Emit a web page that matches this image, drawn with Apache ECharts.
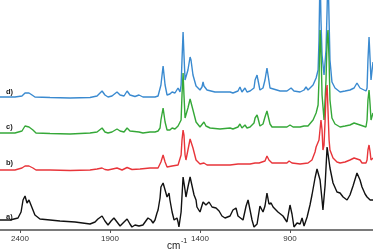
<!DOCTYPE html>
<html>
<head>
<meta charset="utf-8">
<style>
html,body{margin:0;padding:0;background:#fff;}
#chart{width:373px;height:252px;}
</style>
<script src="https://cdn.jsdelivr.net/npm/echarts@6/dist/echarts.min.js"></script>
</head>
<body>
<div id="chart"></div>
<script>
// Wavenumbers (cm-1) and relative intensities (offset arbitrary units)
var tickValues = [2400, 1900, 1400, 900];

var wnD = [2511,2428,2389,2372,2361,2350,2344,2333,2317,2233,2122,2011,1972,1944,1928,1911,1889,1861,1844,1833,1822,1805,1789,1778,1761,1739,1717,1689,1678,1650,1633,1622,1617,1605,1594,1583,1567,1555,1539,1522,1511,1505,1500,1494,1489,1483,1478,1467,1455,1450,1439,1422,1400,1389,1383,1378,1361,1317,1261,1233,1217,1189,1178,1167,1150,1139,1122,1100,1094,1083,1078,1067,1050,1039,1028,1022,1011,1000,955,917,894,878,844,822,811,800,789,772,755,744,739,733,728,722,711,700,694,689,683,678,667,650,622,594,567,544,528,511,500,478,472,467,461,455,450,444,439];
var valD = [133,133,134,137,138,137,137.5,135,133,132.5,132,132.5,134,139,135,133,134,138,135,133,134,139,135,133,133.5,135,133,133,134,133,134,136,145,164,145,135,136,138,137,142,138,145,170,198,175,150,148,160,173,170,155,144,140,143,148,144,140,138,138,138,137,139,143,138,142,138,139,142,150,155,150,140,142,150,162,155,142,140,139,139,142,139,138,140,143,140,141,145,152,160,190,260,210,175,155,180,220,260,210,170,148,142,138,139,140,142,147,142,140,139,142,170,193,170,150,160,168];

var wnC = [2511,2428,2389,2372,2361,2350,2339,2328,2311,2233,2122,2011,1972,1944,1928,1911,1889,1861,1844,1833,1822,1805,1789,1778,1739,1717,1678,1650,1633,1622,1617,1605,1594,1583,1567,1555,1539,1522,1511,1505,1500,1494,1489,1483,1478,1467,1455,1450,1439,1422,1400,1389,1378,1367,1344,1289,1233,1217,1189,1178,1167,1150,1139,1122,1100,1094,1083,1078,1067,1050,1039,1028,1022,1011,1000,955,917,900,883,844,822,811,800,789,772,755,744,739,733,728,722,711,700,694,689,683,678,667,650,622,594,567,544,533,511,500,478,472,467,461,455,450,444,439];
var valC = [97,97,99,104,105,103,103,100,97,96.5,96,97,98,102,98,97,98,101,99,97,98,102,99,97,98,97,98,98,99,102,110,122,108,100,100,102,101,104,102,110,135,157,135,112,110,122,131,132,120,108,103,105,108,104,102,101,102,101,103,106,102,105,102,103,107,112,115,112,104,106,113,119,117,106,103,103,103,105,103,103,104,106,104,105,110,117,125,150,200,180,135,110,150,190,200,170,130,112,106,103,104,105,107,108,105,103,103,110,130,140,125,110,112,117];

var wnB = [2511,2428,2389,2372,2361,2350,2339,2328,2311,2233,2122,2011,1972,1944,1928,1911,1861,1833,1805,1778,1733,1678,1633,1622,1617,1605,1594,1583,1555,1522,1511,1505,1500,1494,1489,1483,1478,1467,1455,1450,1439,1422,1400,1378,1361,1317,1233,1189,1178,1167,1122,1094,1083,1072,1039,1028,1017,1000,955,917,905,889,844,800,778,761,755,744,739,728,722,717,711,705,700,694,689,683,678,661,639,622,594,567,544,533,511,500,478,472,467,461,455,450,444,439];
var valB = [60,60,62,64,65,64,64,62,60,60,59.5,60,61,62,60.5,60,62,60,62.5,60.5,61,62,62,64,68,75,68,63,64,65,65,75,90,100,95,75,70,80,91,92,82,70,66,67,65,65,65,66,68,66,66,67,69,67,69,74,70,67,67,67,69,67,66,67,70,78,83,82,90,110,100,80,85,110,135,145,120,90,80,72,68,67,68,70,72,73,70,67,67,70,80,85,78,70,71,72];

var wnA = [2511,2455,2411,2394,2383,2372,2367,2361,2355,2350,2339,2328,2317,2289,2233,2178,2094,2011,1983,1967,1944,1928,1911,1894,1878,1861,1844,1822,1805,1789,1778,1761,1750,1739,1728,1717,1706,1689,1678,1672,1661,1650,1639,1633,1622,1617,1605,1594,1589,1583,1572,1567,1555,1544,1539,1528,1522,1517,1505,1494,1489,1483,1478,1467,1455,1450,1444,1433,1422,1417,1400,1383,1367,1350,1333,1311,1294,1278,1261,1233,1217,1200,1189,1178,1161,1150,1144,1133,1122,1111,1100,1083,1067,1050,1039,1028,1017,1005,994,983,967,939,917,905,900,889,878,861,844,833,822,805,789,778,761,750,733,722,717,705,694,678,661,639,622,605,594,583,567,550,528,511,500,483,472,455,439];
var valA = [10,10,12,18,30,34,32,27,29,30,25,20,15,11,10,9,8,6,8,11,14,9,5,9,12,8,4,8,11,6,3,5,7,4,2,5,4,12,12,10,7,10,17,20,32,43,47,40,42,33,37,30,18,10,8,12,8,3,18,53,51,40,33,43,53,55,52,35,30,23,18,28,25,28,23,22,19,14,12,14,20,22,14,15,10,12,24,30,20,10,3,6,24,18,24,37,26,27,23,22,18,14,8,20,25,16,3,7,6,12,4,13,25,35,52,61,50,30,20,45,83,62,47,38,37,33,31,30,35,44,57,50,43,36,33,30,30];

var traceNames = ['d)', 'c)', 'b)', 'a)'];
var traceColors = ['#3a8ad0', '#35a838', '#e8353a', '#111111'];

function zip(w, v) {
  var out = [];
  for (var i = 0; i < w.length; i++) out.push([w[i], v[i]]);
  return out;
}

var chart = echarts.init(document.getElementById('chart'));
var datasets = [zip(wnD, valD), zip(wnC, valC), zip(wnB, valB), zip(wnA, valA)];

chart.setOption({
  animation: false,
  backgroundColor: '#ffffff',
  grid: {left: 0, right: 0, top: 0, bottom: 22},
  xAxis: {
    type: 'value',
    inverse: true,
    min: 439,
    max: 2511,
    axisLine: {lineStyle: {color: '#7a7a7a', width: 2}},
    axisTick: {show: true, length: 3, customValues: tickValues, lineStyle: {color: '#555'}},
    axisLabel: {
      customValues: tickValues, fontSize: 8, color: '#333', margin: 5, fontFamily: 'Liberation Sans',
      formatter: function (v) { return String(v); }
    },
    splitLine: {show: false}
  },
  yAxis: {
    type: 'value', min: 0, max: 230, show: false,
    splitLine: {show: false}
  },
  series: datasets.map(function (d, i) {
    return {
      name: traceNames[i],
      type: 'line',
      data: d,
      symbol: 'none',
      clip: true,
      lineStyle: {color: traceColors[i], width: 1.4},
      z: 2 + i
    };
  }),
  graphic: [
    {type: 'text', left: 6, top: 88, style: {text: 'd)', font: 'bold 7.5px Liberation Sans', fill: '#222'}},
    {type: 'text', left: 6, top: 123, style: {text: 'c)', font: 'bold 7.5px Liberation Sans', fill: '#222'}},
    {type: 'text', left: 6, top: 159, style: {text: 'b)', font: 'bold 7.5px Liberation Sans', fill: '#222'}},
    {type: 'text', left: 6, top: 213, style: {text: 'a)', font: 'bold 7.5px Liberation Sans', fill: '#222'}},
    {type: 'text', left: 167, top: 241, style: {text: 'cm', font: '10px Liberation Sans', fill: '#222'}},
    {type: 'text', left: 181, top: 238, style: {text: '-1', font: '7px Liberation Sans', fill: '#222'}}
  ]
});
</script>
</body>
</html>
